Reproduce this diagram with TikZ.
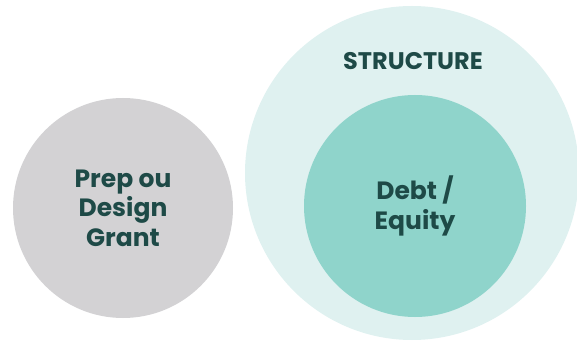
\documentclass[tikz,border=0pt]{standalone}
\usepackage{fontspec}
\setmainfont{Poppins}
\definecolor{greydisc}{HTML}{D3D2D4}
\definecolor{tealouter}{HTML}{DFF1F0}
\definecolor{tealinner}{HTML}{8FD4CB}
\definecolor{darkteal}{HTML}{1E4A47}
\tikzset{
  disc/.style={circle, inner sep=0pt, text=darkteal, align=center,
    font=\bfseries\fontsize{25}{29.5}\selectfont}
}

\begin{document}
\begin{tikzpicture}[x=1pt,y=1pt]
            \useasboundingbox (0,0) rectangle (577,345);
            \node[disc, fill=tealouter, minimum size=334pt] (structure) at (412,172) {};
            \node[disc, fill=tealinner, minimum size=222pt] (debt) at (415,139) {Debt /\\Equity};
            \node[disc, fill=greydisc, minimum size=220pt] (grant) at (123,137) {Prep ou\\Design\\Grant};
            \node[text=darkteal, font=\bfseries\fontsize{24}{26}\selectfont] (label) at (413,284) {STRUCTURE};
        \end{tikzpicture}
\end{document}
